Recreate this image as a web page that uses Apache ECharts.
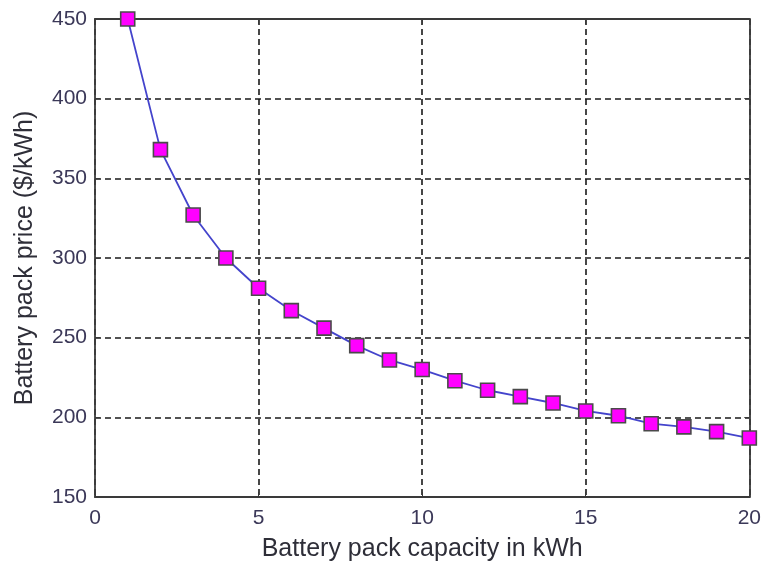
<!DOCTYPE html>
<html>
<head>
<meta charset="utf-8">
<script src="https://cdn.jsdelivr.net/npm/echarts@6/dist/echarts.min.js"></script>
<style>
  html, body { margin: 0; padding: 0; background: #fff; }
  #chart { width: 764px; height: 567px; }
</style>
</head>
<body>
<div id="chart"></div>
<script>
// Battery pack capacity (kWh) and the corresponding pack price ($/kWh)
var capacityKWh = [1, 2, 3, 4, 5, 6, 7, 8, 9, 10, 11, 12, 13, 14, 15, 16, 17, 18, 19, 20];
var priceUSDperKWh = [450, 368, 327, 300, 281, 267, 256, 245, 236, 230, 223, 217, 213, 209, 204, 201, 196, 194, 191, 187];

var xTicks = { min: 0, max: 20, interval: 5 };
var yTicks = { min: 150, max: 450, interval: 50 };

var points = capacityKWh.map(function (c, i) { return [c, priceUSDperKWh[i]]; });

var fontFamily = '"Liberation Sans", Arial, sans-serif';
var tickColor = '#3b3858';
var nameColor = '#2e2e38';
var frameColor = '#3a3a3a';

var gridLine = {
  show: true,
  lineStyle: { color: '#1a1a1a', width: 1.6, type: [6, 4] }
};

var chart = echarts.init(document.getElementById('chart'), null, { renderer: 'canvas' });
chart.setOption({
  backgroundColor: '#ffffff',
  animation: false,
  grid: { left: 95, right: 13, top: 19, bottom: 69, containLabel: false },
  xAxis: [
    {
      type: 'value',
      min: xTicks.min, max: xTicks.max, interval: xTicks.interval,
      position: 'bottom',
      name: 'Battery pack capacity in kWh',
      nameLocation: 'middle',
      nameGap: 40,
      nameTextStyle: { fontFamily: fontFamily, fontSize: 25, color: nameColor },
      axisLine: { show: true, onZero: false, lineStyle: { color: frameColor, width: 1.8 } },
      axisTick: { show: true, inside: true, length: 5, lineStyle: { color: frameColor } },
      axisLabel: { margin: 11, fontFamily: fontFamily, fontSize: 21, color: tickColor },
      splitLine: gridLine
    },
    {
      type: 'value',
      min: xTicks.min, max: xTicks.max, interval: xTicks.interval,
      position: 'top',
      axisLine: { show: true, onZero: false, lineStyle: { color: frameColor, width: 1.8 } },
      axisTick: { show: true, inside: true, length: 5, lineStyle: { color: frameColor } },
      axisLabel: { show: false },
      splitLine: { show: false }
    }
  ],
  yAxis: [
    {
      type: 'value',
      min: yTicks.min, max: yTicks.max, interval: yTicks.interval,
      position: 'left',
      name: 'Battery pack price ($/kWh)',
      nameLocation: 'middle',
      nameGap: 57,
      nameRotate: 90,
      nameTextStyle: { fontFamily: fontFamily, fontSize: 25, color: nameColor },
      axisLine: { show: true, onZero: false, lineStyle: { color: frameColor, width: 1.8 } },
      axisTick: { show: true, inside: true, length: 5, lineStyle: { color: frameColor } },
      axisLabel: { margin: 8, fontFamily: fontFamily, fontSize: 21, color: tickColor },
      splitLine: gridLine
    },
    {
      type: 'value',
      min: yTicks.min, max: yTicks.max, interval: yTicks.interval,
      position: 'right',
      axisLine: { show: true, onZero: false, lineStyle: { color: frameColor, width: 1.8 } },
      axisTick: { show: true, inside: true, length: 5, lineStyle: { color: frameColor } },
      axisLabel: { show: false },
      splitLine: { show: false }
    }
  ],
  series: [
    {
      type: 'line',
      data: points,
      xAxisIndex: 0,
      yAxisIndex: 0,
      symbol: 'rect',
      symbolSize: 14,
      lineStyle: { color: '#4444cc', width: 1.8 },
      itemStyle: { color: '#ff00ff', borderColor: '#4a4a4a', borderWidth: 1.6 },
      z: 5
    }
  ]
});
</script>
</body>
</html>
